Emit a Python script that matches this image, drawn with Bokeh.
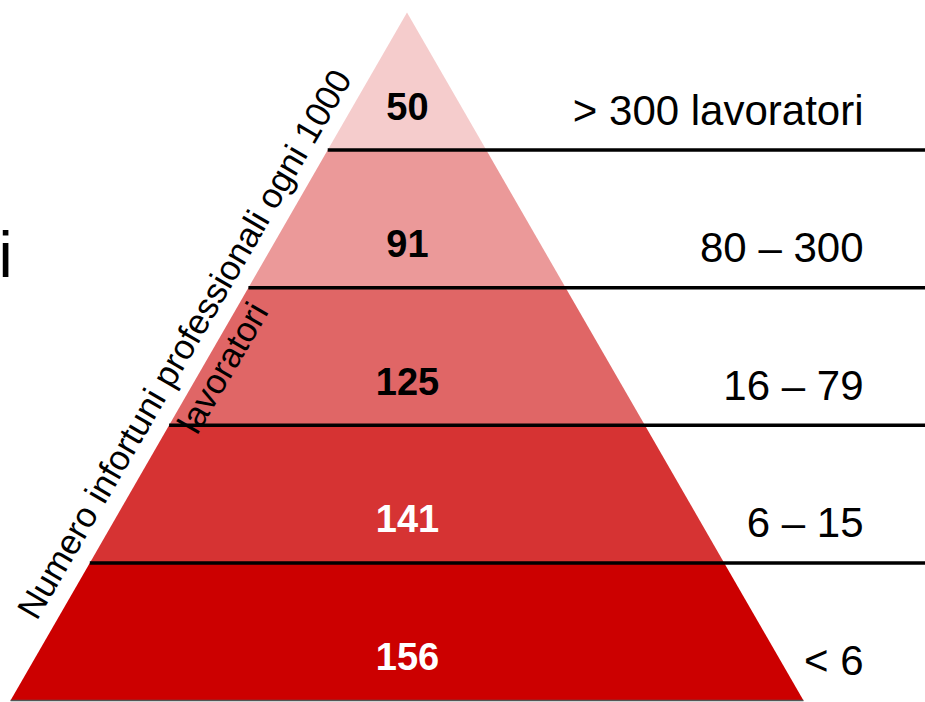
import math
from bokeh.plotting import figure
from bokeh.models import Range1d, ColumnDataSource
from bokeh.core.properties import value
from bokeh.embed import file_html
from bokeh.resources import INLINE

# ---- data (top of pyramid to bottom) ----
rates = [50, 91, 125, 141, 156]
size_labels = ["> 300 lavoratori", "80 \u2013 300", "16 \u2013 79", "6 \u2013 15", "< 6"]
band_colors = ["#F5CCCC", "#EB9999", "#E06666", "#D63333", "#CC0000"]
rate_text_colors = ["#000000", "#000000", "#000000", "#FFFFFF", "#FFFFFF"]
side_title = "Numero infortuni professionali ogni  1000"
side_title2 = "lavoratori"

# ---- geometry (data units == screen pixels, y measured upward) ----
W, H = 925, 702
base_y = H - 700
apex_y = H - 12
cx = 406.5
half_base = 396.5
n = len(rates)
band_h = (apex_y - base_y) / n


def half_width(y):
    return half_base * (apex_y - y) / (apex_y - base_y)


xs, ys, lvl_bottom = [], [], []
for i in range(n):
    level = n - 1 - i  # 0 = bottom band
    y0 = base_y + level * band_h
    y1 = y0 + band_h
    w0, w1 = half_width(y0), half_width(y1)
    xs.append([cx - w0, cx + w0, cx + w1, cx - w1])
    ys.append([y0, y0, y1, y1])
    lvl_bottom.append(y0)

p = figure(width=W, height=H, x_range=Range1d(0, W), y_range=Range1d(0, H),
           output_backend="svg", toolbar_location=None, min_border=0,
           x_axis_type=None, y_axis_type=None)
p.grid.visible = False
p.outline_line_color = None
p.background_fill_color = "white"
p.border_fill_color = "white"

p.patches(xs, ys, fill_color=band_colors, line_color=None)

# separator lines between bands
sx0, sy, sx1 = [], [], []
for level in range(1, n):
    y = base_y + level * band_h
    sx0.append(cx - half_width(y))
    sx1.append(W + 5)
    sy.append(y)
p.segment(x0=sx0, y0=sy, x1=sx1, y1=sy, line_color="black", line_width=3.5)
p.segment(x0=[cx - half_base], y0=[base_y], x1=[cx + half_base], y1=[base_y],
          line_color="#555555", line_width=1.5)

# rate numbers
src = ColumnDataSource(dict(
    x=[407] * n,
    y=[yb + 44 for yb in lvl_bottom],
    t=[str(v) for v in rates],
    c=rate_text_colors,
))
p.text(x="x", y="y", text="t", text_color="c", source=src,
       text_font=value("Liberation Sans"), text_font_style="bold",
       text_font_size="38px", text_align="center", text_baseline="alphabetic")

# size labels on the right
src2 = ColumnDataSource(dict(
    x=[863] * n,
    y=[yb + 40 for yb in lvl_bottom],
    t=size_labels,
))
p.text(x="x", y="y", text="t", source=src2, text_color="black",
       text_font=value("Liberation Sans"), text_font_size="42px",
       text_align="right", text_baseline="alphabetic")

# slanted title along the left edge
ang = math.radians(59.8)
p.text(x=[186], y=[H - 339], text=[side_title], angle=ang,
       text_font=value("Liberation Sans"), text_font_size="35px",
       text_color="black", text_align="center", text_baseline="alphabetic")
p.text(x=[222], y=[H - 367], text=[side_title2], angle=ang,
       text_font=value("Liberation Sans"), text_font_size="35px",
       text_color="black", text_align="center", text_baseline="alphabetic")

# cut-off letter at the left edge
p.text(x=[-2], y=[H - 254], text=["i"],
       text_font=value("Liberation Sans"), text_font_size="64px",
       text_color="black", text_align="left", text_baseline="alphabetic")

open("out.html", "w").write(file_html(p, INLINE))
